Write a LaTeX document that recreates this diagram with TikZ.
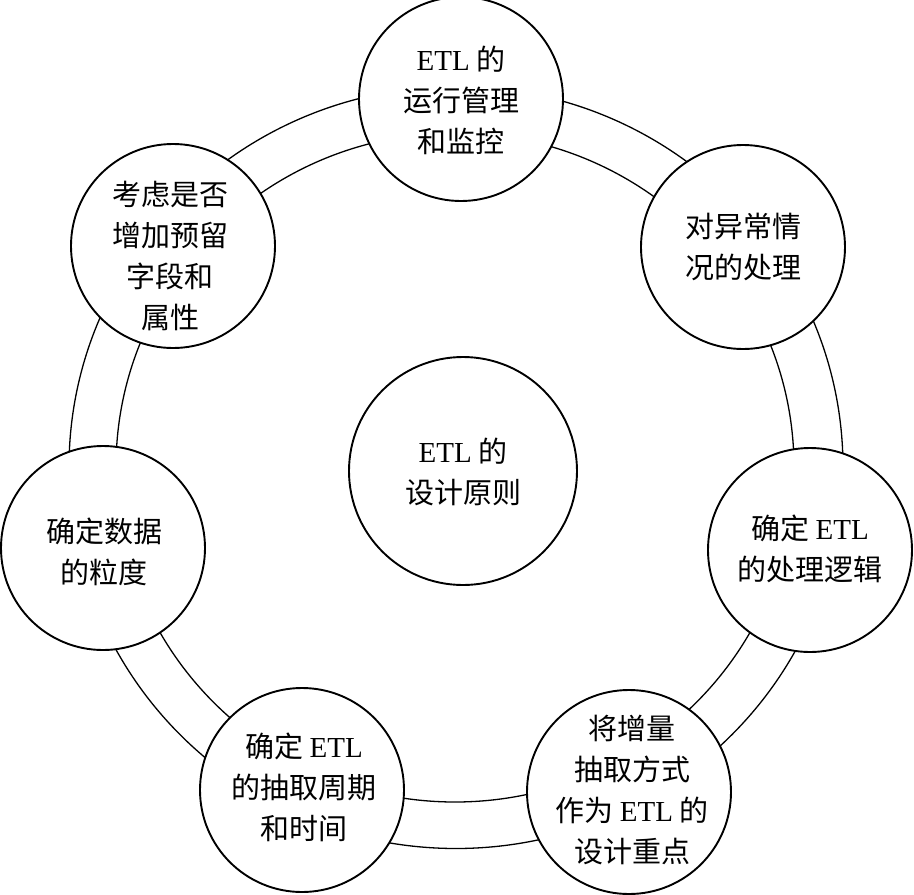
\documentclass[tikz,border=0pt]{standalone}
\usepackage{fontspec}
\setmainfont{Noto Sans CJK SC}
\newfontfamily\lat{Liberation Serif}
\begin{document}
\begin{tikzpicture}[x=1pt,y=-1pt,
  bub/.style={circle,draw,line width=1.9pt,fill=white,minimum size=204pt,inner sep=0pt},
  ringline/.style={line width=1.3pt},
  lbl/.style={align=center,inner sep=0pt,font=\fontsize{29}{41}\selectfont}]
\useasboundingbox[fill=white] (0,0) rectangle (914,895);
% double ring
\draw[ringline] (456,467.5) ellipse [x radius=387, y radius=381];
\draw[ringline] (455,467.5) ellipse [x radius=339, y radius=334.5];
% circles
\node[bub,minimum size=228pt] (c0) at (463,471) {};
\node[bub] (cT)  at (461,99)  {};
\node[bub] (cRT) at (743,247) {};
\node[bub] (cR)  at (810,550) {};
\node[bub] (cBR) at (629,792) {};
\node[bub] (cBL) at (302,790) {};
\node[bub] (cL)  at (103,548) {};
\node[bub] (cLT) at (173,246) {};
% labels
\node[lbl] (tC)  at (463,472) {{\lat ETL} 的\\设计原则};
\node[lbl] (tT)  at (461,100) {{\lat ETL} 的\\运行管理\\和监控};
\node[lbl] (tRT) at (743,247) {对异常情\\况的处理};
\node[lbl] (tR)  at (810,549) {确定 {\lat ETL}\\的处理逻辑};
\node[lbl] (tBR) at (632,790) {将增量\\抽取方式\\作为 {\lat ETL} 的\\设计重点};
\node[lbl] (tBL) at (304,787) {确定 {\lat ETL}\\的抽取周期\\和时间};
\node[lbl] (tL)  at (104,552) {确定数据\\的粒度};
\node[lbl] (tLT) at (170,256) {考虑是否\\增加预留\\字段和\\属性};
\end{tikzpicture}
\end{document}
